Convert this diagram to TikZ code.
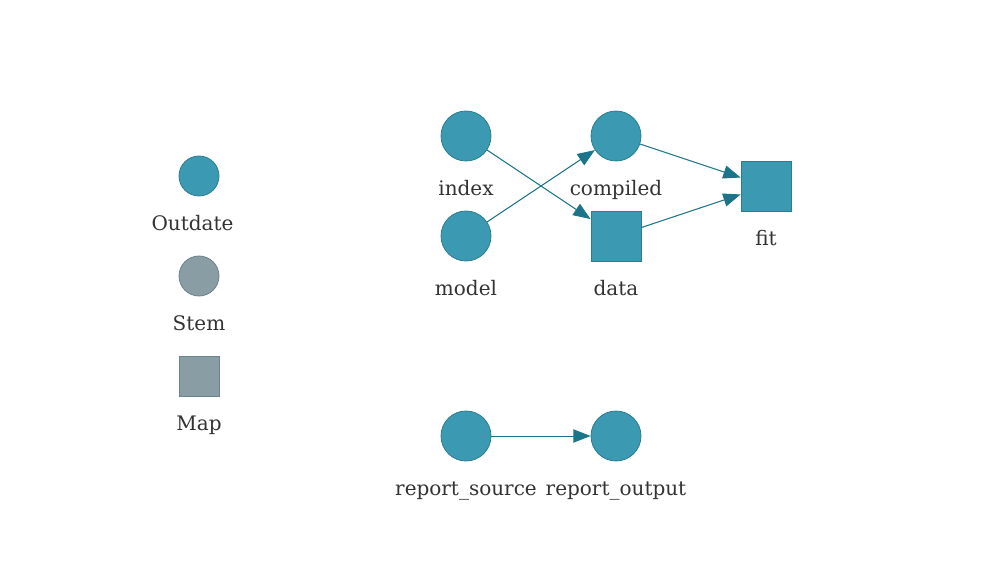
\documentclass[tikz,border=0pt]{standalone}
\usepackage{fontspec}
\setmainfont{DejaVu Serif}
\usetikzlibrary{arrows.meta}
\definecolor{outfill}{HTML}{3B99B1}
\definecolor{outdraw}{HTML}{2B7D91}
\definecolor{stemfill}{HTML}{899DA4}
\definecolor{stemdraw}{HTML}{6B838C}
\definecolor{edgecol}{HTML}{1B7489}
\definecolor{txt}{HTML}{333333}
\tikzset{
  outcircle/.style={circle,fill=outfill,draw=outdraw,line width=0.6pt,inner sep=0pt,minimum size=37.5pt},
  outsquare/.style={rectangle,fill=outfill,draw=outdraw,line width=0.6pt,inner sep=0pt,minimum size=37.5pt},
  legcircle/.style={circle,draw=outdraw,line width=0.6pt,inner sep=0pt,minimum size=30pt},
  legsquare/.style={rectangle,draw=stemdraw,fill=stemfill,line width=0.6pt,inner sep=0pt,minimum size=30pt},
  lbl/.style={anchor=base,text=txt,font=\fontsize{15pt}{18pt}\selectfont,inner sep=0pt},
  edge/.style={draw=edgecol,line width=0.75pt,-{Triangle[length=13pt,width=10pt]}}
}
\begin{document}
\begin{tikzpicture}[x=0.75pt,y=-0.75pt]
\useasboundingbox (0,0) rectangle (1000,588);
% legend
\node[legcircle,fill=outfill] (lgout) at (199,176) {};
\node[lbl] (lgoutl) at (192.5,230) {Outdate};
\node[legcircle,fill=stemfill,draw=stemdraw] (lgstem) at (199,276) {};
\node[lbl] (lgsteml) at (199,330) {Stem};
\node[legsquare] (lgmap) at (199,376) {};
\node[lbl] (lgmapl) at (199,430) {Map};
% graph nodes
\node[outcircle] (index) at (466,136) {};
\node[lbl] (indexl) at (466,195.5) {index};
\node[outcircle] (model) at (466,236) {};
\node[lbl] (modell) at (466,295.5) {model};
\node[outcircle] (compiled) at (616,136) {};
\node[lbl] (compiledl) at (616,195.5) {compiled};
\node[outsquare] (data) at (616,236) {};
\node[lbl] (datal) at (616,295.5) {data};
\node[outsquare] (fit) at (766,186) {};
\node[lbl] (fitl) at (766,245.5) {fit};
\node[outcircle] (rsrc) at (466,436) {};
\node[lbl] (rsrcl) at (466,495.5) {report\_source};
\node[outcircle] (rout) at (616,436) {};
\node[lbl] (routl) at (616,495.5) {report\_output};
% edges
\draw[edge] (index) -- (data);
\draw[edge] (model) -- (compiled);
\draw[edge] (compiled) -- (fit);
\draw[edge] (data) -- (fit);
\draw[edge] (rsrc) -- (rout);
\end{tikzpicture}
\end{document}
